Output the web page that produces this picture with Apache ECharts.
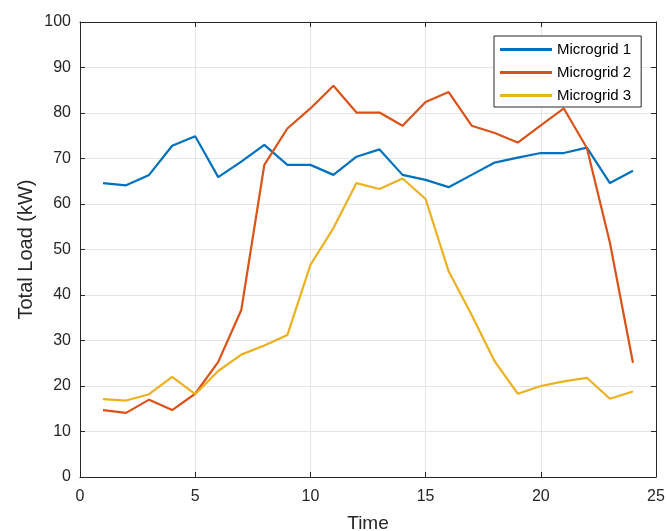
<!DOCTYPE html>
<html>
<head>
<meta charset="utf-8">
<script src="https://cdn.jsdelivr.net/npm/echarts@6/dist/echarts.min.js"></script>
<style>
  html, body { margin: 0; padding: 0; background: #fff; }
  #chart { width: 667px; height: 531px; }
</style>
</head>
<body>
<div id="chart"></div>
<script>
// Hourly time steps
const hours = [1, 2, 3, 4, 5, 6, 7, 8, 9, 10, 11, 12, 13, 14, 15, 16, 17, 18, 19, 20, 21, 22, 23, 24];

// Total load per microgrid (kW)
const microgrid1 = [64.6, 64.1, 66.4, 72.8, 74.9, 65.9, 69.3, 73.0, 68.6, 68.6, 66.4, 70.4, 72.0, 66.4, 65.3, 63.7, 66.4, 69.1, 70.2, 71.2, 71.2, 72.4, 64.6, 67.3];
const microgrid2 = [14.7, 14.1, 17.0, 14.7, 18.3, 25.3, 36.7, 68.6, 76.6, 81.0, 86.0, 80.1, 80.1, 77.2, 82.4, 84.6, 77.2, 75.6, 73.5, 77.3, 81.0, 72.3, 51.5, 25.1];
const microgrid3 = [17.1, 16.8, 18.2, 22.0, 18.2, 23.3, 26.9, 28.9, 31.2, 46.6, 54.7, 64.6, 63.3, 65.6, 61.1, 45.2, 35.6, 25.4, 18.3, 20.0, 21.0, 21.8, 17.2, 18.8];

const seriesNames = ['Microgrid 1', 'Microgrid 2', 'Microgrid 3'];
const seriesColors = ['#0072BD', '#D95319', '#EDB120'];
const seriesData = [microgrid1, microgrid2, microgrid3];

const xTicks = { min: 0, max: 25, interval: 5 };
const yTicks = { min: 0, max: 100, interval: 10 };

const font = 'Arial, "Liberation Sans", Helvetica, sans-serif';
const axisColor = '#262626';
const gridColor = '#e5e5e5';

function baseAxis(position, showLabels, ticks, labelMargin) {
  return {
    type: 'value',
    position: position,
    min: ticks.min,
    max: ticks.max,
    interval: ticks.interval,
    axisLine: { show: true, onZero: false, lineStyle: { color: axisColor, width: 1 } },
    axisTick: { show: true, inside: true, length: 5, lineStyle: { color: axisColor } },
    axisLabel: {
      show: showLabels,
      color: '#262626',
      fontSize: 16,
      fontFamily: font,
      margin: labelMargin
    },
    splitLine: { show: showLabels, lineStyle: { color: gridColor, width: 1 } }
  };
}

const chart = echarts.init(document.getElementById('chart'), null, { renderer: 'canvas' });

const xMain = baseAxis('bottom', true, xTicks, 12);
xMain.name = 'Time';
xMain.nameLocation = 'middle';
xMain.nameGap = 37;
xMain.nameMoveOverlap = false;
xMain.nameTextStyle = { color: '#262626', fontSize: 19, fontFamily: font };

const yMain = baseAxis('left', true, yTicks, 9);
yMain.name = 'Total Load (kW)';
yMain.nameLocation = 'middle';
yMain.nameGap = 44;
yMain.nameMoveOverlap = false;
yMain.nameTextStyle = { color: '#262626', fontSize: 20, fontFamily: font };

chart.setOption({
  animation: false,
  backgroundColor: '#ffffff',
  grid: { left: 80, right: 11, top: 22, bottom: 54, containLabel: false, outerBoundsMode: 'none' },
  xAxis: [xMain, baseAxis('top', false, xTicks, 8)],
  yAxis: [yMain, baseAxis('right', false, yTicks, 8)],
  legend: {
    orient: 'vertical',
    left: 494,
    top: 36,
    padding: [6, 10, 4, 6],
    itemGap: 8,
    itemWidth: 52,
    itemHeight: 3,
    backgroundColor: '#ffffff',
    borderColor: '#262626',
    borderWidth: 1,
    borderRadius: 0,
    icon: 'rect',
    textStyle: { color: '#000', fontSize: 15, fontFamily: font, lineHeight: 14, padding: [0, 0, 0, 0] },
    data: seriesNames
  },
  series: seriesNames.map((name, i) => ({
    name: name,
    type: 'line',
    xAxisIndex: 0,
    yAxisIndex: 0,
    showSymbol: false,
    symbol: 'none',
    color: seriesColors[i],
    lineStyle: { color: seriesColors[i], width: 2.2 },
    data: hours.map((h, k) => [h, seriesData[i][k]])
  }))
});
</script>
</body>
</html>
